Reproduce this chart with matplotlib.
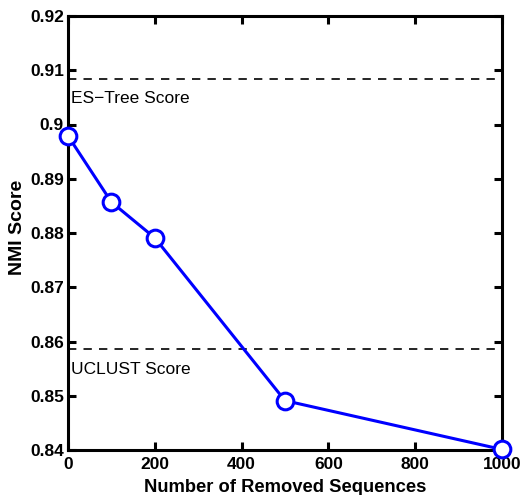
import matplotlib
matplotlib.use("Agg")
import matplotlib.pyplot as plt

removed = [0, 100, 200, 500, 1000]
nmi = [0.8979, 0.8857, 0.8791, 0.8491, 0.8401]
es_tree_score = 0.9084
uclust_score = 0.8586
xticks = [0, 200, 400, 600, 800, 1000]
yticks = [0.84, 0.85, 0.86, 0.87, 0.88, 0.89, 0.90, 0.91, 0.92]
ytick_labels = ["0.84", "0.85", "0.86", "0.87", "0.88", "0.89", "0.9", "0.91", "0.92"]

plt.rcParams['font.family'] = ['Liberation Sans', 'DejaVu Sans']

fig = plt.figure(figsize=(5.22, 4.95), dpi=100)
ax = fig.add_axes([68/522, 45/495, 434/522, 434/495])

ax.axhline(es_tree_score, color='black', linestyle=(0, (5, 4.3)), linewidth=1.2)
ax.axhline(uclust_score, color='black', linestyle=(0, (5, 4.3)), linewidth=1.2)
ax.plot(removed, nmi, color='#0000ff', linewidth=2.2, marker='o', markersize=12,
        markerfacecolor='white', markeredgecolor='#0000ff', markeredgewidth=2.2,
        clip_on=False, zorder=5)

ax.text(6, es_tree_score - 0.0023, "ES\u2212Tree Score", fontsize=12.5, va='top', ha='left')
ax.text(6, uclust_score - 0.0023, "UCLUST Score", fontsize=12.5, va='top', ha='left')

ax.set_xlim(0, 1000)
ax.set_ylim(0.84, 0.92)
ax.set_xticks(xticks)
ax.set_yticks(yticks)
ax.set_yticklabels(ytick_labels)
ax.tick_params(direction='in', top=True, right=True, length=5.5, width=2.2,
               labelsize=12.5)
ax.tick_params(axis='x', pad=5)
ax.tick_params(axis='y', pad=3)
for lab in ax.get_xticklabels() + ax.get_yticklabels():
    lab.set_fontweight('bold')
for sp in ax.spines.values():
    sp.set_linewidth(2.2)

ax.set_xlabel("Number of Removed Sequences", fontsize=13.2, fontweight='bold', labelpad=5)
ax.set_ylabel("NMI Score", fontsize=14, fontweight='bold')
ax.yaxis.set_label_coords(-0.097, 0.512)

fig.savefig("out.png", dpi=100)
